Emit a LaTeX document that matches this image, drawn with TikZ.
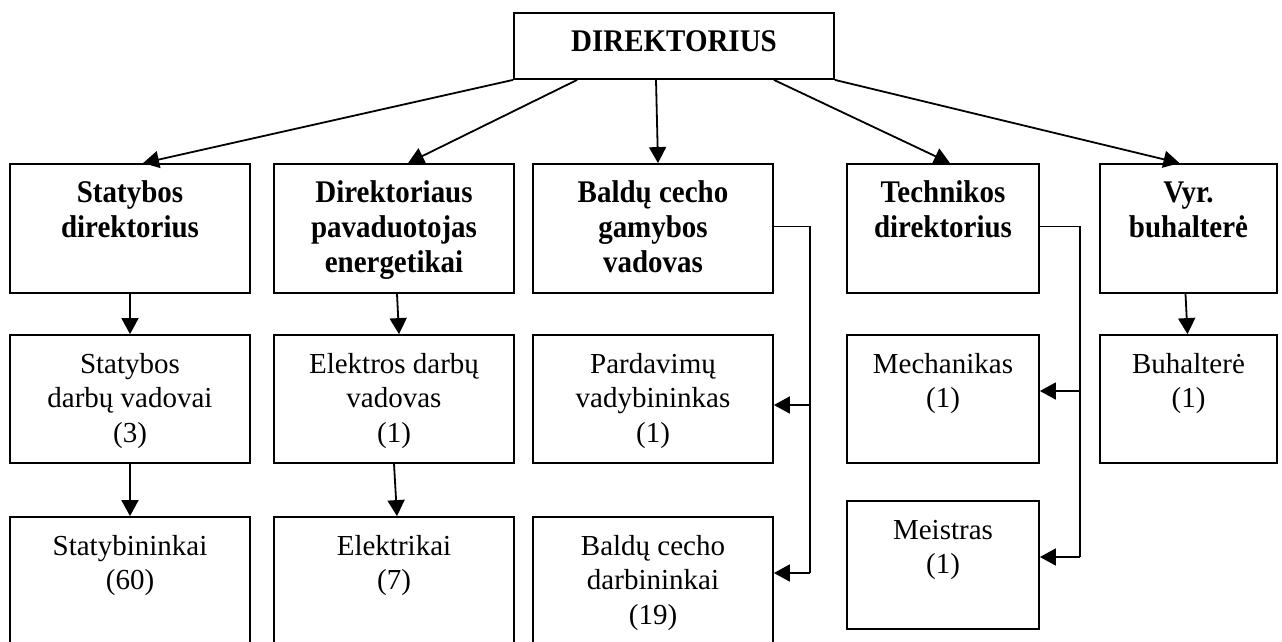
\documentclass[tikz,border=0pt]{standalone}
\usepackage{fontspec}
\setmainfont{Liberation Serif}
\newfontfamily\hdfont{Liberation Serif}[FakeStretch=0.92]
\usetikzlibrary{arrows.meta,calc}
\begin{document}
\begin{tikzpicture}[x=1pt,y=-1pt,line width=1.8pt,
  font=\fontsize{29}{34.5}\selectfont,
  box/.style={draw,rectangle,inner sep=0pt,minimum width=#1},
  hd/.style={anchor=north,align=center,inner sep=0pt,font=\hdfont\fontsize{31.5}{35}\selectfont\bfseries},
  tx/.style={anchor=north,align=center,inner sep=0pt},
  arr/.style={-{Triangle[length=16pt,width=17pt]}}]
\useasboundingbox (0,0) rectangle (1282,641);
\clip (0,0) rectangle (1282,641);

% top
\node[box=320,minimum height=66] (top) at (674,46) {};
\node[hd] (ttop) at ($(top.north)+(0,14)$) {\strut DIREKTORIUS};

% first level
\node[box=240,minimum height=129] (b1) at (130,228.5) {};
\node[box=240,minimum height=129] (b2) at (394,228.5) {};
\node[box=240,minimum height=129] (b3) at (653,228.5) {};
\node[box=192,minimum height=129] (b4) at (943,228.5) {};
\node[box=177,minimum height=129] (b5) at (1188.5,228.5) {};
\node[hd] (tb1) at ($(b1.north)+(0,14)$) {\strut Statybos\\direktorius};
\node[hd] (tb2) at ($(b2.north)+(0,14)$) {\strut Direktoriaus\\pavaduotojas\\energetikai};
\node[hd] (tb3) at ($(b3.north)+(0,14)$) {\strut Baldų cecho\\gamybos\\vadovas};
\node[hd] (tb4) at ($(b4.north)+(0,14)$) {\strut Technikos\\direktorius};
\node[hd] (tb5) at ($(b5.north)+(0,14)$) {\strut Vyr.\\buhalterė};

% second level
\node[box=240,minimum height=128] (c1) at (130,399) {};
\node[box=240,minimum height=128] (c2) at (394,399) {};
\node[box=240,minimum height=128] (c3) at (653,399) {};
\node[box=192,minimum height=128] (c4) at (943,399) {};
\node[box=177,minimum height=128] (c5) at (1188.5,399) {};
\node[tx] (tc1) at ($(c1.north)+(0,14)$) {\strut Statybos\\darbų vadovai\\(3)};
\node[tx] (tc2) at ($(c2.north)+(0,14)$) {\strut Elektros darbų\\vadovas\\(1)};
\node[tx] (tc3) at ($(c3.north)+(0,14)$) {\strut Pardavimų\\vadybininkas\\(1)};
\node[tx] (tc4) at ($(c4.north)+(0,14)$) {\strut Mechanikas\\(1)};
\node[tx] (tc5) at ($(c5.north)+(0,14)$) {\strut Buhalterė\\(1)};

% third level
\node[box=240,minimum height=143] (d1) at (130,588.5) {};
\node[box=240,minimum height=143] (d2) at (394,588.5) {};
\node[box=240,minimum height=143] (d3) at (653,588.5) {};
\node[box=192,minimum height=128] (d4) at (943,565) {};
\node[tx] (td1) at ($(d1.north)+(0,14)$) {\strut Statybininkai\\(60)};
\node[tx] (td2) at ($(d2.north)+(0,14)$) {\strut Elektrikai\\(7)};
\node[tx] (td3) at ($(d3.north)+(0,14)$) {\strut Baldų cecho\\darbininkai\\(19)};
\node[tx] (td4) at ($(d4.north)+(0,14)$) {\strut Meistras\\(1)};

% director to first level
\draw[arr] (top.south west) -- ([xshift=13]b1.north);
\draw[arr] ([xshift=64]top.south west) -- ([xshift=14]b2.north);
\draw[arr] ([xshift=-18]top.south) -- ([xshift=5]b3.north);
\draw[arr] ([xshift=-61]top.south east) -- ([xshift=7]b4.north);
\draw[arr] (top.south east) -- ([xshift=-9]b5.north);

% vertical chains
\draw[arr] (b1.south) -- (c1.north);
\draw[arr] ([xshift=3]b2.south) -- ([xshift=5]c2.north);
\draw[arr] ([xshift=-3]b5.south) -- ([xshift=-1]c5.north);
\draw[arr] (c1.south) -- (d1.north);
\draw[arr] (c2.south) -- ([xshift=3]d2.north);

% brackets
\coordinate (j3) at ($(b3.east)+(36,-2)$);
\draw (b3.east |- j3) -- (j3) -- (j3 |- 0,573) coordinate (k3);
\draw[arr] (j3 |- 0,405) -- (c3.east |- 0,405);
\draw[arr] (k3) -- (d3.east |- k3);

\coordinate (j4) at ($(b4.east)+(40,-2)$);
\draw (b4.east |- j4) -- (j4) -- (j4 |- 0,557) coordinate (k4);
\draw[arr] (j4 |- 0,391) -- (c4.east |- 0,391);
\draw[arr] (k4) -- (d4.east |- k4);
\end{tikzpicture}
\end{document}
